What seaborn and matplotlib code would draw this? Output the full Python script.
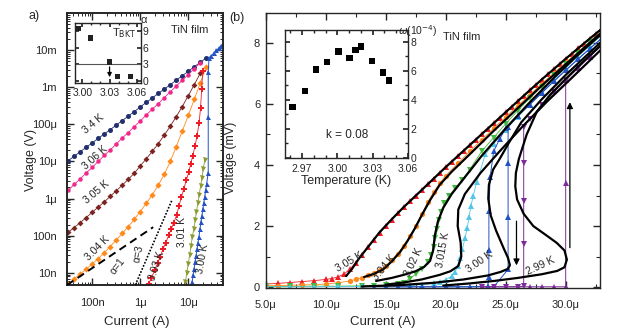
import matplotlib
matplotlib.use("Agg")
import matplotlib.pyplot as plt
import seaborn as sns
from matplotlib.ticker import FixedLocator, FixedFormatter, LogLocator, NullFormatter, MultipleLocator

sns.set_theme(style="ticks")
plt.rcParams['font.family'] = ['Liberation Sans', 'DejaVu Sans']
plt.rcParams['mathtext.fontset'] = 'dejavusans'
plt.rcParams['axes.linewidth'] = 1.0

W, H = 621, 329
def fx(p): return p / W
def fy(p): return 1 - p / H

# ---------------- panel (a) data (log-log I-V) ----------------
I_a = [3.16e-8, 4.22e-8, 5.62e-8, 7.5e-8, 1.0e-7, 1.33e-7, 1.78e-7, 2.37e-7, 3.16e-7, 4.22e-7,
       5.62e-7, 7.5e-7, 1.0e-6, 1.33e-6, 1.78e-6, 2.37e-6, 3.16e-6, 4.22e-6, 5.62e-6, 7.5e-6,
       1.0e-5, 1.33e-5, 1.78e-5, 2.37e-5]
V_340 = [1.05e-5, 1.38e-5, 1.82e-5, 2.4e-5, 3.16e-5, 4.17e-5, 5.5e-5, 7.2e-5, 9.5e-5, 1.26e-4,
         1.66e-4, 2.19e-4, 2.95e-4, 3.89e-4, 5.1e-4, 6.8e-4, 8.9e-4, 1.17e-3, 1.55e-3, 2.04e-3,
         2.69e-3, 3.55e-3, 4.7e-3, 6.2e-3]
V_306 = [1.66e-6, 2.4e-6, 3.39e-6, 4.9e-6, 6.9e-6, 1.0e-5, 1.45e-5, 2.04e-5, 2.95e-5, 4.3e-5,
         6.0e-5, 8.7e-5, 1.23e-4, 1.78e-4, 2.57e-4, 3.6e-4, 5.2e-4, 7.6e-4, 1.07e-3, 1.55e-3,
         2.19e-3, 3.16e-3, 4.6e-3]
V_305 = [1.23e-7, 1.66e-7, 2.24e-7, 3.09e-7, 4.27e-7, 5.89e-7, 8.1e-7, 1.15e-6, 1.62e-6, 2.29e-6,
         3.31e-6, 4.79e-6, 7.6e-6, 1.17e-5, 1.86e-5, 3.02e-5, 5.13e-5, 8.9e-5, 1.62e-4, 3.02e-4,
         5.9e-4, 1.17e-3, 2.4e-3]
V_304 = [5.0e-9, 6.8e-9, 9.3e-9, 1.26e-8, 1.74e-8, 2.4e-8, 3.47e-8, 5.1e-8, 7.6e-8, 1.15e-7,
         1.74e-7, 2.75e-7, 4.47e-7, 7.4e-7, 1.26e-6, 2.29e-6, 4.47e-6, 1.0e-5, 2.51e-5, 6.6e-5,
         1.74e-4, 4.68e-4, 1.32e-3, 3.55e-3]
I_303 = [1.5e-6, 1.7e-6, 2.0e-6, 2.3e-6, 2.6e-6, 3.0e-6, 3.4e-6, 3.9e-6, 4.4e-6, 5.0e-6,
         5.7e-6, 6.4e-6, 7.2e-6, 8.1e-6, 9.1e-6, 1.02e-5, 1.12e-5, 1.24e-5, 1.38e-5, 1.52e-5,
         1.68e-5, 1.8e-5, 1.9e-5, 2.0e-5]
V_303 = [5.0e-9, 7.2e-9, 1.17e-8, 1.82e-8, 2.7e-8, 4.5e-8, 6.5e-8, 1.02e-7, 1.51e-7, 2.24e-7,
         3.55e-7, 6.3e-7, 1.1e-6, 1.86e-6, 3.16e-6, 5.1e-6, 8.7e-6, 1.41e-5, 2.63e-5, 4.8e-5,
         1.12e-4, 2.8e-4, 8.9e-4, 2.8e-3]
I_301 = [8.7e-6, 9.3e-6, 1.0e-5, 1.07e-5, 1.14e-5, 1.22e-5, 1.3e-5, 1.39e-5, 1.48e-5, 1.58e-5,
         1.68e-5, 1.8e-5, 1.92e-5, 2.05e-5, 2.2e-5]
V_301 = [5.6e-9, 1.0e-8, 1.74e-8, 3.09e-8, 5.4e-8, 9.5e-8, 1.51e-7, 2.57e-7, 4.37e-7, 7.6e-7,
         1.23e-6, 2.14e-6, 3.63e-6, 6.3e-6, 1.1e-5]
I_300a = [1.2e-5, 1.26e-5, 1.32e-5, 1.38e-5, 1.45e-5, 1.52e-5, 1.59e-5, 1.67e-5, 1.75e-5, 1.83e-5,
          1.92e-5, 2.01e-5, 2.1e-5, 2.2e-5, 2.3e-5, 2.4e-5, 2.6e-5, 2.6e-5, 2.6e-5, 2.7e-5,
          3.0e-5, 3.4e-5, 3.8e-5, 4.3e-5, 4.8e-5, 5.2e-5]
V_300a = [5.6e-9, 8.5e-9, 1.26e-8, 1.9e-8, 2.8e-8, 4.3e-8, 6.3e-8, 9.5e-8, 1.51e-7, 2.29e-7,
          3.39e-7, 5.1e-7, 7.6e-7, 1.12e-6, 1.7e-6, 2.45e-6, 5.0e-6, 1.55e-4, 2.5e-3, 6.0e-3,
          7.1e-3, 8.3e-3, 9.8e-3, 1.12e-2, 1.32e-2, 1.48e-2]
I_alpha1 = [3.0e-8, 1.86e-6]
V_alpha1 = [4.7e-9, 1.7e-7]
I_alpha3 = [7.9e-7, 4.57e-6]
V_alpha3 = [4.7e-9, 9.1e-7]

# inset (a): alpha vs T
T_ins_a = [2.996, 3.009, 3.030, 3.0385, 3.053]
alpha_ins_a = [9.6, 7.8, 3.4, 0.8, 0.8]

# ---------------- panel (b) data (linear I-V, I in uA, V in mV) ----------------
I_b305 = [5, 6, 7, 8, 9, 10, 10.5, 11, 11.5, 12, 12.5, 13, 13.5, 14, 14.5, 15, 15.5, 16, 16.5, 17,
          17.5, 18, 18.5, 19, 19.5, 20, 20.5, 21, 21.5, 22, 22.5, 23, 23.5, 24, 24.5, 25, 25.5, 26,
          26.5, 27, 27.5, 28, 28.5, 29, 29.5, 30, 30.5, 31, 31.5, 32, 32.5, 33]
V_b305 = [0.10, 0.12, 0.15, 0.18, 0.21, 0.25, 0.28, 0.33, 0.42, 0.58, 0.8, 1.05, 1.3, 1.55, 1.78, 2.0,
          2.2, 2.42, 2.62, 2.82, 3.0, 3.18, 3.37, 3.55, 3.74, 3.93, 4.11, 4.29, 4.47, 4.65, 4.83, 5.01,
          5.19, 5.37, 5.55, 5.73, 5.91, 6.09, 6.27, 6.45, 6.62, 6.8, 6.97, 7.14, 7.31, 7.48, 7.65,
          7.82, 7.98, 8.14, 8.3, 8.46]
I_b304 = [5, 6, 7, 8, 9, 10, 11, 12, 12.5, 13, 13.5, 14, 14.5, 15, 15.5, 16, 16.5, 17, 17.5, 18,
          18.5, 19, 19.5, 20, 21, 22, 23, 24, 25, 26, 27, 28, 29, 30, 31, 32, 33]
V_b304 = [0.04, 0.05, 0.06, 0.07, 0.08, 0.10, 0.14, 0.2, 0.25, 0.31, 0.38, 0.46, 0.56, 0.7, 0.88, 1.1,
          1.36, 1.66, 2.0, 2.38, 2.78, 3.12, 3.4, 3.65, 4.05, 4.45, 4.83, 5.2, 5.57, 5.94, 6.3, 6.66,
          7.01, 7.36, 7.7, 8.04, 8.38]
I_b302 = [5, 7, 9, 11, 13, 14, 15, 16, 16.5, 17, 17.5, 18, 18.5, 18.8, 19.0, 19.15, 19.3, 19.45,
          19.6, 19.9, 20.3, 20.8, 21.4, 22, 23, 24, 25, 26, 27, 28, 29, 30, 31, 32, 33]
V_b302 = [0.02, 0.02, 0.03, 0.03, 0.04, 0.05, 0.07, 0.1, 0.15, 0.28, 0.42, 0.6, 0.82, 1.05, 1.32, 1.6,
          1.9, 2.2, 2.47, 2.74, 3.0, 3.25, 3.52, 3.85, 4.45, 4.9, 5.35, 5.78, 6.18, 6.57, 6.95, 7.32,
          7.68, 8.03, 8.37]
I_b3015 = [5, 7, 9, 11, 13, 15, 17, 18, 19, 19.5, 20, 20.5, 20.8, 21.0, 21.2, 21.4, 21.6, 21.8,
           21.95, 22.1, 22.3, 22.6, 23.3, 24, 25, 26, 27, 28, 29, 30, 31, 32, 33]
V_b3015 = [0.01, 0.01, 0.01, 0.02, 0.02, 0.03, 0.05, 0.08, 0.12, 0.17, 0.24, 0.36, 0.5, 0.7, 0.95,
           1.25, 1.6, 1.95, 2.3, 2.65, 3.0, 3.45, 4.35, 4.7, 5.15, 5.58, 6.0, 6.4, 6.8, 7.18, 7.55,
           7.9, 8.25]
I_b300_up = [14, 15, 16, 17, 18, 19, 20, 21, 22, 23, 24, 25.2, 25.2, 25.2, 25.2, 26, 27, 28, 29, 30,
             31, 32, 33]
V_b300_up = [0.01, 0.01, 0.01, 0.01, 0.01, 0.01, 0.01, 0.01, 0.01, 0.01, 0.01, 0.58, 2.3, 4.07, 5.26,
             5.6, 5.98, 6.36, 6.74, 7.1, 7.46, 7.81, 8.15]
I_b300_dn = [33, 32, 31, 30, 29, 28, 27, 26, 25, 24.5, 24, 23.7, 23.6, 23.6, 23.6, 23.5, 22, 20,
             18, 16]
V_b300_dn = [8.15, 7.81, 7.46, 7.1, 6.74, 6.36, 5.98, 5.6, 5.2, 4.85, 4.45, 3.6, 2.48, 1.2, 0.32,
             0.02, 0.01, 0.01, 0.01, 0.01]
I_b299_up = [23, 24, 25, 26, 27, 28, 29, 30, 30, 30, 31, 32, 33]
V_b299_up = [0.01, 0.01, 0.01, 0.01, 0.01, 0.01, 0.01, 0.01, 3.41, 6.78, 7.17, 7.55, 7.92]
I_b299_dn = [33, 32, 31, 30, 29, 28, 27, 26.5, 26.5, 26.5, 26.5, 26.5, 26, 25, 24, 23]
V_b299_dn = [7.92, 7.55, 7.17, 6.78, 6.38, 5.95, 5.5, 5.26, 4.07, 2.81, 1.4, 0.02, 0.01, 0.01, 0.01,
             0.01]

# model fits (black curves)
fit305_I = [11.7, 12.2, 12.8, 13.5, 14.5, 15.5, 16.5, 18, 20, 22, 24, 26, 28, 30, 32, 33]
fit305_V = [0.36, 0.6, 0.95, 1.3, 1.8, 2.22, 2.62, 3.18, 3.93, 4.65, 5.37, 6.09, 6.8, 7.48, 8.14, 8.46]
fit304_I = [13.2, 14.0, 14.8, 15.5, 16.2, 16.8, 17.4, 18.0, 18.7, 19.5, 20.5, 22, 24, 26, 28, 30,
            32, 33]
fit304_V = [0.33, 0.43, 0.58, 0.84, 1.15, 1.5, 1.9, 2.35, 2.85, 3.35, 3.78, 4.35, 5.12, 5.86, 6.6,
            7.3, 8.0, 8.35]
fit302_I = [14.2, 15.5, 16.5, 17.5, 18.2, 18.7, 18.95, 19.1, 19.35, 19.8, 20.5, 21.5, 23, 25, 27,
            29, 31, 33]
fit302_V = [0.2, 0.3, 0.4, 0.52, 0.66, 0.86, 1.2, 1.7, 2.15, 2.6, 3.05, 3.55, 4.3, 5.2, 6.05, 6.85,
            7.6, 8.3]
fit3015_I = [15, 16.5, 18, 19.5, 20.4, 21.05, 21.3, 21.25, 21.0, 21.05, 21.6, 22.9, 24.5, 26.5,
             28.5, 30.5, 33]
fit3015_V = [0.08, 0.15, 0.25, 0.4, 0.52, 0.69, 1.0, 1.45, 2.0, 2.54, 3.05, 3.74, 4.45, 5.3, 6.1,
             6.85, 7.8]
fit300_I = [13, 16, 19, 21.5, 23.5, 24.6, 25.2, 25.35, 25.2, 24.8, 24.2, 23.75, 23.55, 23.6, 23.95,
            24.5, 25.3, 26.3, 28, 30, 33]
fit300_V = [0.02, 0.06, 0.14, 0.25, 0.38, 0.5, 0.6, 0.72, 0.95, 1.3, 1.85, 2.35, 2.9, 3.35, 3.85,
            4.2, 4.75, 5.4, 6.15, 6.95, 8.05]
fit299_I = [19.8, 22, 24, 26, 28, 29.3, 29.9, 30.1, 29.9, 29.25, 28.3, 27.3, 26.5, 25.95, 25.8,
            25.85, 26.1, 26.75, 27.6, 28.7, 30, 31.5, 33]
fit299_V = [0.05, 0.12, 0.2, 0.3, 0.42, 0.53, 0.65, 0.9, 1.2, 1.45, 1.72, 2.0, 2.4, 2.87, 3.3, 3.74,
            4.2, 5.0, 5.75, 6.3, 6.82, 7.4, 7.95]

# inset (b)
T_ins_b = [2.962, 2.9726, 2.982, 2.9913, 3.001, 3.0102, 3.0153, 3.0202, 3.0295, 3.0386, 3.044]
w_ins_b = [3.5, 4.6, 6.07, 6.6, 7.33, 6.87, 7.44, 7.67, 6.67, 5.87, 5.34]

# colors
C_NAVY, C_PINK, C_BROWN = "#23306f", "#f0288c", "#7b2320"
C_ORANGE, C_RED, C_OLIVE, C_BLUE = "#ff8a1c", "#ee1c25", "#8c9a30", "#2352c4"
C_GREEN, C_CYAN, C_PURPLE = "#3dbb3a", "#52c6e6", "#7d2a9c"


def draw(ax, x, y, color, marker=None, ms=4.0, lw=0.8, ls='-', z=2):
    sns.lineplot(x=x, y=y, ax=ax, sort=False, estimator=None, color=color, marker=marker,
                 markersize=ms, markeredgewidth=0, linewidth=lw, linestyle=ls, zorder=z,
                 legend=False)


fig = plt.figure(figsize=(6.21, 3.29), dpi=100)
fig.patch.set_facecolor("white")

# ---------------- panel (a) ----------------
axA = fig.add_axes([fx(66.7), fy(285), 156 / W, 272 / H])
axA.set_xscale('log')
axA.set_yscale('log')
draw(axA, I_a, V_340, C_NAVY, 'o', 3.6, lw=0.6)
draw(axA, I_a[:23], V_306, C_PINK, 'o', 3.2, lw=0.6)
draw(axA, I_a[:23], V_305, C_BROWN, 'D', 3.0, lw=0.6)
draw(axA, I_a, V_304, C_ORANGE, 'D', 3.2, lw=0.6)
draw(axA, I_303, V_303, C_RED, 'P', 4.0, lw=0.6)
draw(axA, I_301, V_301, C_OLIVE, 'v', 3.6, lw=0.6)
draw(axA, I_300a, V_300a, C_BLUE, '^', 3.6, lw=0.7)
draw(axA, I_alpha1, V_alpha1, 'black', None, lw=1.4, ls=(0, (4, 2.5)), z=3)
draw(axA, I_alpha3, V_alpha3, 'black', None, lw=1.2, ls=(0, (1, 1)), z=3)
axA.set_xlim(2.95e-8, 5.2e-5)
axA.set_ylim(4.7e-9, 0.1)
axA.xaxis.set_major_locator(FixedLocator([1e-7, 1e-6, 1e-5]))
axA.xaxis.set_major_formatter(FixedFormatter(["100n", "1μ", "10μ"]))
axA.yaxis.set_major_locator(FixedLocator([1e-8, 1e-7, 1e-6, 1e-5, 1e-4, 1e-3, 1e-2]))
axA.yaxis.set_major_formatter(FixedFormatter(["10n", "100n", "1μ", "10μ", "100μ", "1m", "10m"]))
for axis in (axA.xaxis, axA.yaxis):
    axis.set_minor_locator(LogLocator(base=10, subs=range(2, 10), numticks=20))
    axis.set_minor_formatter(NullFormatter())
axA.tick_params(which='both', direction='in', top=True, right=True, labelsize=8)
axA.tick_params(axis='x', which='major', pad=9)
axA.tick_params(axis='y', which='major', pad=7)
axA.tick_params(which='major', length=5, width=1.0)
axA.tick_params(which='minor', length=2.5, width=0.7)
for s in axA.spines.values():
    s.set_linewidth(1.4)
axA.set_xlabel("")
axA.set_ylabel("")
fig.text(fx(137), fy(322), "Current (A)", ha='center', va='center', fontsize=9.5)
fig.text(fx(31), fy(160), "Voltage (V)", ha='center', va='center', fontsize=9, rotation=90)
fig.text(fx(34), fy(16), "a)", ha='center', va='center', fontsize=9)
fig.text(fx(190), fy(30), "TiN film", ha='center', va='center', fontsize=8)

labA = [("3.4 K", 93, 124, 40), ("3.06 K", 95, 158, 42), ("3.05 K", 97, 192, 40),
        ("3.04 K", 97, 248, 45), ("α=1", 118, 266, 52), ("α=3", 139, 254, 78),
        ("3.03 K", 157, 266, 72), ("3.01 K", 182, 232, 90), ("3.00 K", 203, 259, 80)]
for t, x, y, r in labA:
    fig.text(fx(x), fy(y), t, ha='center', va='center', fontsize=7.5, rotation=r)

# inset (a)
insA = fig.add_axes([fx(75), fy(82.7), 65.5 / W, 59.4 / H])
sns.scatterplot(x=T_ins_a, y=alpha_ins_a, ax=insA, marker='s', color='#222222', s=14,
                edgecolor='none', legend=False, zorder=3)
insA.axhline(3, color='#555555', lw=0.8, zorder=1)
insA.annotate("", xy=(3.030, 0.1), xytext=(3.030, 3.0),
              arrowprops=dict(arrowstyle='-|>', color='black', lw=0.9, mutation_scale=6))
insA.set_xlim(2.992, 3.064)
insA.set_ylim(-0.4, 10.5)
insA.xaxis.set_major_locator(FixedLocator([3.00, 3.03, 3.06]))
insA.xaxis.set_major_formatter(FixedFormatter(["3.00", "3.03", "3.06"]))
insA.yaxis.set_major_locator(FixedLocator([0, 3, 6, 9]))
insA.xaxis.set_minor_locator(MultipleLocator(0.01))
insA.yaxis.tick_right()
insA.tick_params(which='both', direction='in', top=True, left=True, right=True, labelsize=7.5)
insA.tick_params(axis='x', which='major', pad=3.5)
insA.tick_params(axis='y', which='major', pad=1.5)
insA.tick_params(which='major', length=3)
insA.tick_params(which='minor', length=1.5)
insA.text(3.046, 8.7, "T$_\\mathrm{BKT}$", ha='center', va='center', fontsize=8)
fig.text(fx(144), fy(20), "α", ha='center', va='center', fontsize=8)

# ---------------- panel (b) ----------------
axB = fig.add_axes([fx(265.7), fy(288), 334.3 / W, 275 / H])
draw(axB, I_b305, V_b305, C_RED, '^', 4.2, lw=0.6)
draw(axB, I_b304, V_b304, C_ORANGE, 'o', 3.8, lw=0.6)
draw(axB, I_b302, V_b302, C_GREEN, 'v', 4.2, lw=0.6)
draw(axB, I_b3015, V_b3015, C_CYAN, '^', 4.2, lw=0.6)
draw(axB, I_b300_up, V_b300_up, C_BLUE, '^', 4.2, lw=0.7)
draw(axB, I_b300_dn, V_b300_dn, C_BLUE, '^', 4.2, lw=0.7)
draw(axB, I_b299_up, V_b299_up, C_PURPLE, '^', 4.2, lw=0.7)
draw(axB, I_b299_dn, V_b299_dn, C_PURPLE, 'v', 4.2, lw=0.7)
for fi, fv in [(fit305_I, fit305_V), (fit304_I, fit304_V), (fit302_I, fit302_V),
               (fit3015_I, fit3015_V), (fit300_I, fit300_V), (fit299_I, fit299_V)]:
    draw(axB, fi, fv, 'black', None, lw=1.6, z=4)
axB.annotate("", xy=(25.9, 0.62), xytext=(25.9, 2.25),
             arrowprops=dict(arrowstyle='-|>', color='black', lw=0.9, mutation_scale=9), zorder=5)
axB.annotate("", xy=(30.35, 6.15), xytext=(30.35, 1.2),
             arrowprops=dict(arrowstyle='-|>', color='black', lw=0.9, mutation_scale=9), zorder=5)
axB.set_xlim(5.0, 32.86)
axB.set_ylim(-0.03, 8.98)
axB.xaxis.set_major_locator(FixedLocator([5, 10, 15, 20, 25, 30]))
axB.xaxis.set_major_formatter(FixedFormatter(["5.0μ", "10.0μ", "15.0μ", "20.0μ", "25.0μ", "30.0μ"]))
axB.xaxis.set_minor_locator(MultipleLocator(2.5))
axB.yaxis.set_major_locator(MultipleLocator(2))
axB.yaxis.set_minor_locator(MultipleLocator(1))
axB.tick_params(which='both', direction='in', top=True, right=True, labelsize=8)
axB.tick_params(axis='x', which='major', pad=9)
axB.tick_params(axis='y', which='major', pad=4)
axB.tick_params(which='major', length=5, width=1.0)
axB.tick_params(which='minor', length=3, width=0.8)
axB.set_xlabel("")
axB.set_ylabel("")
fig.text(fx(383), fy(322), "Current (A)", ha='center', va='center', fontsize=9.5)
fig.text(fx(231), fy(158), "Voltage (mV)", ha='center', va='center', fontsize=9, rotation=90)
fig.text(fx(237), fy(18), "(b)", ha='center', va='center', fontsize=9)
fig.text(fx(462), fy(37), "TiN film", ha='center', va='center', fontsize=8)

labB = [("3.05 K", 349, 262, 30), ("3.04 K", 384, 268, 50), ("3.02 K", 414, 262, 65),
        ("3.015 K", 443, 250, 80), ("3.00 K", 480, 262, 35), ("2.99 K", 540, 266, 25)]
for t, x, y, r in labB:
    fig.text(fx(x), fy(y), t, ha='center', va='center', fontsize=7.5, rotation=r, zorder=10)

# inset (b)
insB = fig.add_axes([fx(285), fy(158), 123 / W, 128 / H])
sns.scatterplot(x=T_ins_b, y=w_ins_b, ax=insB, marker='s', color='black', s=22,
                edgecolor='none', legend=False)
insB.set_xlim(2.9556, 3.06)
insB.set_ylim(0, 8.8)
insB.xaxis.set_major_locator(FixedLocator([2.97, 3.00, 3.03, 3.06]))
insB.xaxis.set_major_formatter(FixedFormatter(["2.97", "3.00", "3.03", "3.06"]))
insB.xaxis.set_minor_locator(MultipleLocator(0.01))
insB.yaxis.set_major_locator(MultipleLocator(2))
insB.yaxis.set_minor_locator(MultipleLocator(1))
insB.yaxis.tick_right()
insB.tick_params(which='both', direction='in', top=True, left=True, right=True, labelsize=7.5)
insB.tick_params(axis='x', which='major', pad=4)
insB.tick_params(axis='y', which='major', pad=2)
insB.tick_params(which='major', length=3.5)
insB.tick_params(which='minor', length=2)
insB.set_xlabel("Temperature (K)", fontsize=9, labelpad=1)
insB.text(3.008, 1.6, "k = 0.08", ha='center', va='center', fontsize=8.5)
fig.text(fx(418), fy(31), "$\\omega$(10$^{-4}$)", ha='center', va='center', fontsize=7.5)

fig.savefig("out.png", dpi=100, facecolor="white")
